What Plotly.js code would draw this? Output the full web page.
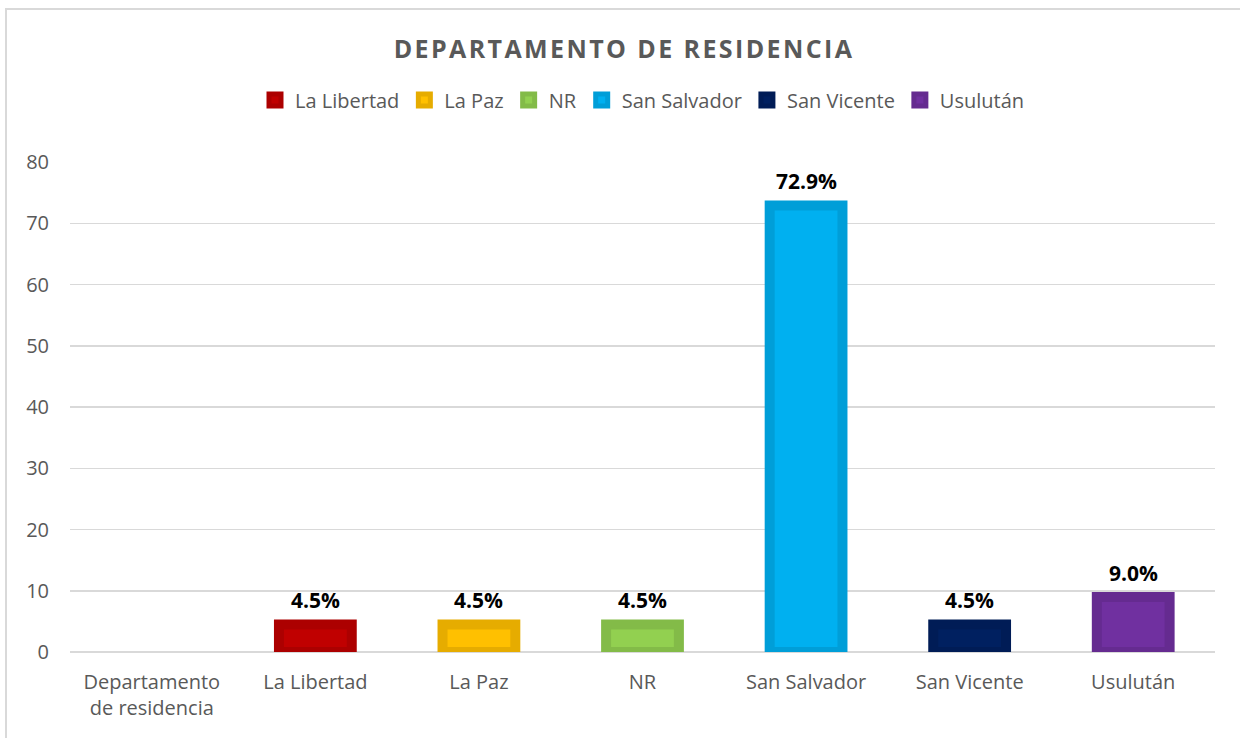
<!DOCTYPE html>
<html>
<head>
<meta charset="utf-8">
<script src="https://cdn.plot.ly/plotly-3.0.1.min.js"></script>
<style>
  html, body { margin: 0; padding: 0; background: #ffffff; }
  #frame { position: absolute; left: 5px; top: 8px; width: 1300px; height: 800px;
           border-left: 2px solid #d9d9d9; border-top: 2px solid #d9d9d9; box-sizing: border-box; }
  #chart { position: absolute; left: 0; top: 0; width: 1240px; height: 738px; }
  .gtitle { letter-spacing: 2.4px; }
</style>
</head>
<body>
<div id="frame"></div>
<div id="chart"></div>
<script>
// ---- data ----
const categories = ["Departamento de residencia", "La Libertad", "La Paz", "NR", "San Salvador", "San Vicente", "Usulután"];
const tickLabels = ["Departamento<br>de residencia", "La Libertad", "La Paz", "NR", "San Salvador", "San Vicente", "Usulután"];
const seriesNames = ["La Libertad", "La Paz", "NR", "San Salvador", "San Vicente", "Usulután"];
const seriesValues = [4.5, 4.5, 4.5, 72.9, 4.5, 9.0];
const seriesLabels = ["4.5%", "4.5%", "4.5%", "72.9%", "4.5%", "9.0%"];
const fillColors = ["#C00000", "#FFC000", "#92D050", "#00B0F0", "#002060", "#7030A0"];
const edgeColors = ["#AC0000", "#E6AC00", "#83BB48", "#009ED8", "#001C56", "#652B90"];
const yTicks = [0, 10, 20, 30, 40, 50, 60, 70, 80];

const FONT = "'Open Sans', 'Liberation Sans', sans-serif";
const GRAY = "#595959";

const traces = seriesNames.map((name, i) => ({
  type: "bar",
  name: name,
  x: [name],
  y: [seriesValues[i]],
  width: 0.445,
  marker: { color: fillColors[i], line: { color: edgeColors[i], width: 10 } },
  hoverinfo: "none"
}));

const annotations = seriesNames.map((name, i) => ({
  x: name,
  y: seriesValues[i],
  xref: "x",
  yref: "y",
  text: "<b>" + seriesLabels[i] + "</b>",
  showarrow: false,
  yanchor: "bottom",
  yshift: 8,
  font: { family: FONT, size: 21, color: "#000000" }
}));

const layout = {
  width: 1240,
  height: 738,
  paper_bgcolor: "rgba(0,0,0,0)",
  plot_bgcolor: "rgba(0,0,0,0)",
  margin: { l: 70, r: 25, t: 162, b: 86 },
  title: {
    text: "<b>DEPARTAMENTO DE RESIDENCIA</b>",
    font: { family: FONT, size: 25, color: GRAY },
    x: 624 / 1240, xref: "container", xanchor: "center",
    y: 1 - 49 / 738, yref: "container", yanchor: "middle"
  },
  showlegend: true,
  legend: {
    orientation: "h",
    x: 0.5, xref: "paper", xanchor: "center",
    y: 1 - 100 / 738, yref: "container", yanchor: "middle",
    font: { family: FONT, size: 20, color: GRAY },
    itemclick: false, itemdoubleclick: false,
    traceorder: "normal"
  },
  barmode: "overlay",
  xaxis: {
    type: "category",
    categoryorder: "array",
    categoryarray: categories,
    tickmode: "array",
    tickvals: categories,
    ticktext: tickLabels,
    range: [-0.5, categories.length - 0.5],
    showgrid: false,
    zeroline: false,
    showline: false,
    ticks: "",
    ticklabelstandoff: 16,
    tickfont: { family: FONT, size: 20, color: GRAY }
  },
  yaxis: {
    range: [0, 80],
    tickmode: "array",
    tickvals: yTicks,
    showgrid: true,
    gridcolor: "#d9d9d9",
    gridwidth: 1.5,
    zeroline: true,
    zerolinecolor: "#d9d9d9",
    zerolinewidth: 1.5,
    showline: false,
    ticks: "",
    ticklabelstandoff: 20,
    tickfont: { family: FONT, size: 20, color: GRAY }
  },
  annotations: annotations
};

Plotly.newPlot("chart", traces, layout, { displayModeBar: false, staticPlot: true });
</script>
</body>
</html>
